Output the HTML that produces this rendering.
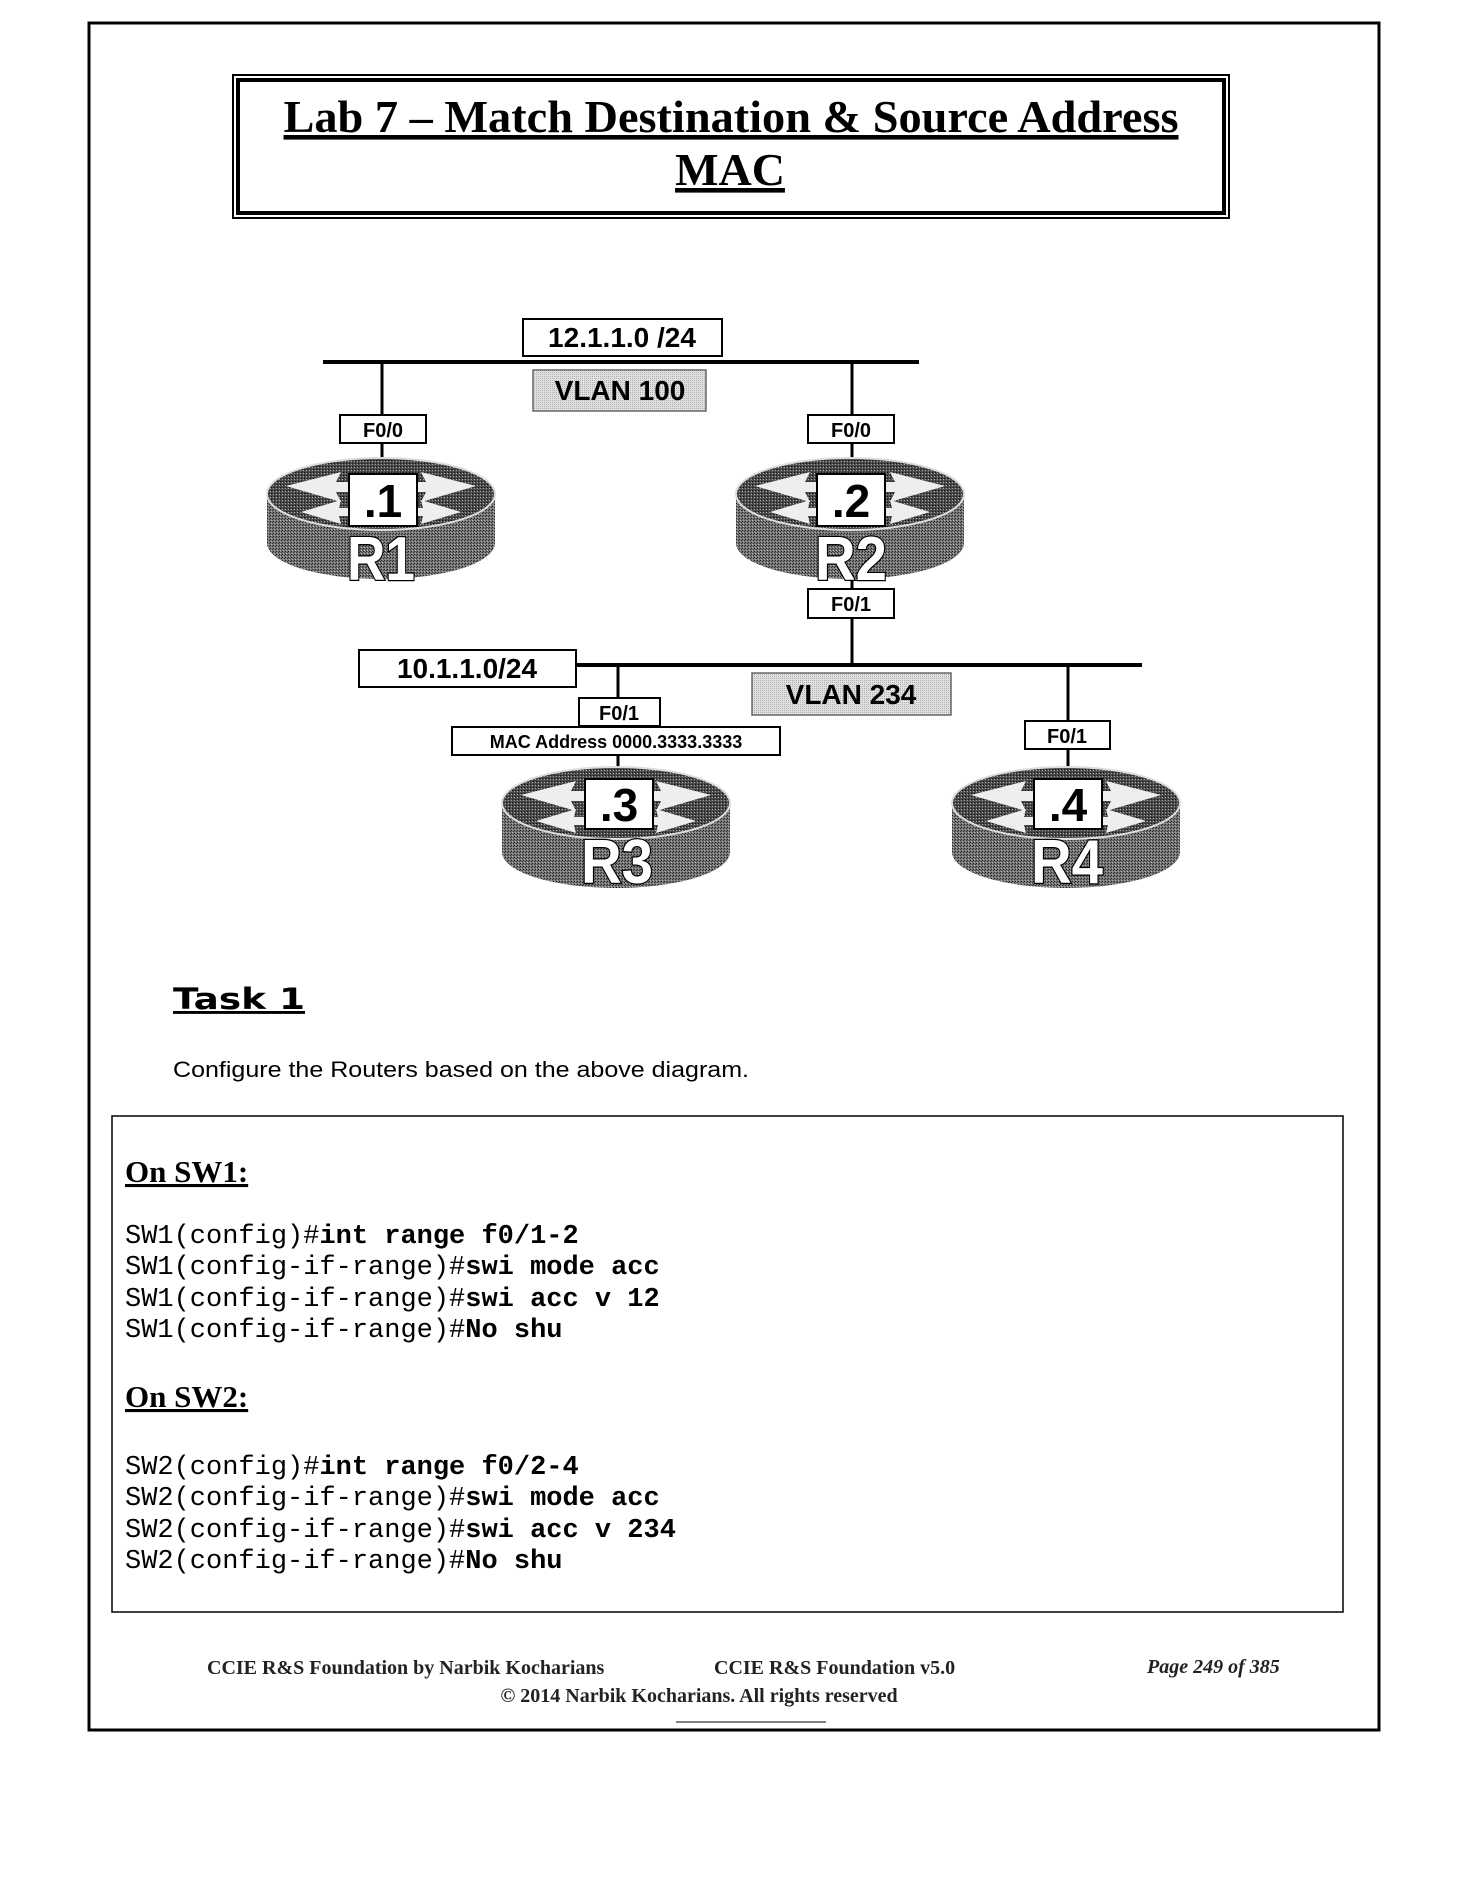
<!DOCTYPE html>
<html><head><meta charset="utf-8"><style>
html,body{margin:0;padding:0;background:#fff;}
body{width:1483px;height:1896px;position:relative;overflow:hidden;}
</style></head><body>
<svg width="1483" height="1896" viewBox="0 0 1483 1896" xmlns="http://www.w3.org/2000/svg">
<defs>
<pattern id="dith" width="3" height="3" patternUnits="userSpaceOnUse">
<rect width="3" height="3" fill="#777"/><rect width="1" height="1" fill="#222"/><rect x="2" y="1" width="1" height="1" fill="#333"/><rect x="1" y="2" width="1" height="1" fill="#aaa"/>
</pattern>
<pattern id="dith2" width="3" height="3" patternUnits="userSpaceOnUse">
<rect width="3" height="3" fill="#4a4a4a"/><rect width="1" height="1" fill="#aaa"/><rect x="1" y="2" width="1" height="1" fill="#111"/>
</pattern>
<pattern id="gray" width="2" height="2" patternUnits="userSpaceOnUse">
<rect width="2" height="2" fill="#e0e0e0"/><rect width="1" height="1" fill="#b0b0b0"/>
</pattern>
<g id="router">
<path d="M-114,0 L-114,49 A114,36 0 0 0 114,49 L114,0 Z" fill="url(#dith)"/>
<ellipse cx="0" cy="0" rx="114" ry="36" fill="url(#dith2)" stroke="#ddd" stroke-width="2"/>
<path d="M-95,-8 L-40,-22 L-45,-12 L-10,-12 L-10,-2 L-45,-2 L-40,8 Z" fill="#eee"/>
<path d="M95,-8 L40,-22 L45,-12 L10,-12 L10,-2 L45,-2 L40,8 Z" fill="#eee"/>
<path d="M-80,18 L-40,6 L-42,14 L-15,14 L-15,22 L-42,22 L-40,30 Z" fill="#eee"/>
<path d="M80,18 L40,6 L42,14 L15,14 L15,22 L42,22 L40,30 Z" fill="#eee"/>
</g>
</defs>

<rect x="89" y="23" width="1290" height="1707" fill="none" stroke="#000" stroke-width="3"/>

<rect x="233" y="75" width="996" height="143" fill="none" stroke="#000" stroke-width="2"/>
<rect x="238" y="80" width="986" height="133" fill="none" stroke="#000" stroke-width="4"/>
<g font-family="Liberation Serif, serif" font-weight="bold" font-size="46" text-anchor="middle" text-decoration="underline">
<text x="731" y="132" textLength="895" lengthAdjust="spacingAndGlyphs">Lab 7 – Match Destination &amp; Source Address</text>
<text x="730" y="185">MAC</text>
</g>

<line x1="323" y1="362" x2="919" y2="362" stroke="#000" stroke-width="4"/>
<line x1="382" y1="362" x2="382" y2="470" stroke="#000" stroke-width="3"/>
<line x1="852" y1="362" x2="852" y2="470" stroke="#000" stroke-width="3"/>
<line x1="576" y1="665" x2="1142" y2="665" stroke="#000" stroke-width="4"/>
<line x1="852" y1="580" x2="852" y2="665" stroke="#000" stroke-width="3"/>
<line x1="618" y1="665" x2="618" y2="780" stroke="#000" stroke-width="3"/>
<line x1="1068" y1="665" x2="1068" y2="780" stroke="#000" stroke-width="3"/>

<use href="#router" x="381" y="494"/>
<use href="#router" x="850" y="494"/>
<use href="#router" x="616" y="803"/>
<use href="#router" x="1066" y="803"/>

<g font-family="Liberation Sans, sans-serif" font-weight="bold" text-anchor="middle">
<rect x="523" y="319" width="199" height="37" fill="#fff" stroke="#000" stroke-width="2"/>
<text x="622" y="347" font-size="28">12.1.1.0 /24</text>
<rect x="533" y="370" width="173" height="41" fill="url(#gray)" stroke="#666" stroke-width="1.5"/>
<text x="620" y="400" font-size="28">VLAN 100</text>
<rect x="340" y="415" width="86" height="28" fill="#fff" stroke="#000" stroke-width="2"/>
<text x="383" y="437" font-size="20">F0/0</text>
<rect x="808" y="415" width="86" height="28" fill="#fff" stroke="#000" stroke-width="2"/>
<text x="851" y="437" font-size="20">F0/0</text>
<rect x="808" y="589" width="86" height="29" fill="#fff" stroke="#000" stroke-width="2"/>
<text x="851" y="611" font-size="20">F0/1</text>
<rect x="359" y="650" width="217" height="37" fill="#fff" stroke="#000" stroke-width="2"/>
<text x="467" y="678" font-size="28">10.1.1.0/24</text>
<rect x="752" y="673" width="199" height="42" fill="url(#gray)" stroke="#666" stroke-width="1.5"/>
<text x="851" y="704" font-size="28">VLAN 234</text>
<rect x="579" y="698" width="81" height="28" fill="#fff" stroke="#000" stroke-width="2"/>
<text x="619" y="720" font-size="20">F0/1</text>
<rect x="452" y="727" width="328" height="28" fill="#fff" stroke="#000" stroke-width="2"/>
<text x="616" y="748" font-size="18">MAC Address 0000.3333.3333</text>
<rect x="1025" y="721" width="85" height="28" fill="#fff" stroke="#000" stroke-width="2"/>
<text x="1067" y="743" font-size="20">F0/1</text>

<rect x="349" y="474" width="68" height="52" fill="#fff" stroke="#000" stroke-width="2"/>
<text x="383" y="517" font-size="46">.1</text>
<rect x="817" y="474" width="68" height="52" fill="#fff" stroke="#000" stroke-width="2"/>
<text x="851" y="517" font-size="46">.2</text>
<rect x="585" y="779" width="68" height="50" fill="#fff" stroke="#000" stroke-width="2"/>
<text x="619" y="821" font-size="46">.3</text>
<rect x="1034" y="779" width="68" height="50" fill="#fff" stroke="#000" stroke-width="2"/>
<text x="1068" y="821" font-size="46">.4</text>

<g font-size="62" fill="#fff" stroke="#000" stroke-width="2.5" paint-order="stroke">
<text x="381" y="580" textLength="68" lengthAdjust="spacingAndGlyphs">R1</text>
<text x="851" y="580" textLength="72" lengthAdjust="spacingAndGlyphs">R2</text>
<text x="617" y="883" textLength="72" lengthAdjust="spacingAndGlyphs">R3</text>
<text x="1067" y="883" textLength="72" lengthAdjust="spacingAndGlyphs">R4</text>
</g>
</g>

<text x="173" y="1009" font-family="DejaVu Sans, sans-serif" font-weight="bold" font-size="29" text-decoration="underline" textLength="132" lengthAdjust="spacingAndGlyphs">Task 1</text>
<text x="173" y="1077" font-family="Liberation Sans, sans-serif" font-size="22" textLength="576" lengthAdjust="spacingAndGlyphs">Configure the Routers based on the above diagram.</text>

<rect x="112" y="1116" width="1231" height="496" fill="none" stroke="#000" stroke-width="1.5"/>
<g font-family="Liberation Serif, serif" font-weight="bold" font-size="31" text-decoration="underline">
<text x="125" y="1182">On SW1:</text>
<text x="125" y="1407">On SW2:</text>
</g>
<g font-family="Liberation Mono, monospace" font-size="27">
<text x="125" y="1243">SW1(config)#<tspan font-weight="bold">int range f0/1-2</tspan></text>
<text x="125" y="1274">SW1(config-if-range)#<tspan font-weight="bold">swi mode acc</tspan></text>
<text x="125" y="1306">SW1(config-if-range)#<tspan font-weight="bold">swi acc v 12</tspan></text>
<text x="125" y="1337">SW1(config-if-range)#<tspan font-weight="bold">No shu</tspan></text>
<text x="125" y="1474">SW2(config)#<tspan font-weight="bold">int range f0/2-4</tspan></text>
<text x="125" y="1505">SW2(config-if-range)#<tspan font-weight="bold">swi mode acc</tspan></text>
<text x="125" y="1537">SW2(config-if-range)#<tspan font-weight="bold">swi acc v 234</tspan></text>
<text x="125" y="1568">SW2(config-if-range)#<tspan font-weight="bold">No shu</tspan></text>
</g>

<g font-family="Liberation Serif, serif" font-size="20" font-weight="bold" fill="#222">
<text x="207" y="1674">CCIE R&amp;S Foundation by Narbik Kocharians</text>
<text x="714" y="1674">CCIE R&amp;S Foundation v5.0</text>
<text x="1147" y="1673" font-style="italic">Page 249 of 385</text>
<text x="699" y="1702" text-anchor="middle">© 2014 Narbik Kocharians. All rights reserved</text>
</g>
<line x1="676" y1="1722" x2="826" y2="1722" stroke="#000" stroke-width="1"/>
</svg>
</body></html>
